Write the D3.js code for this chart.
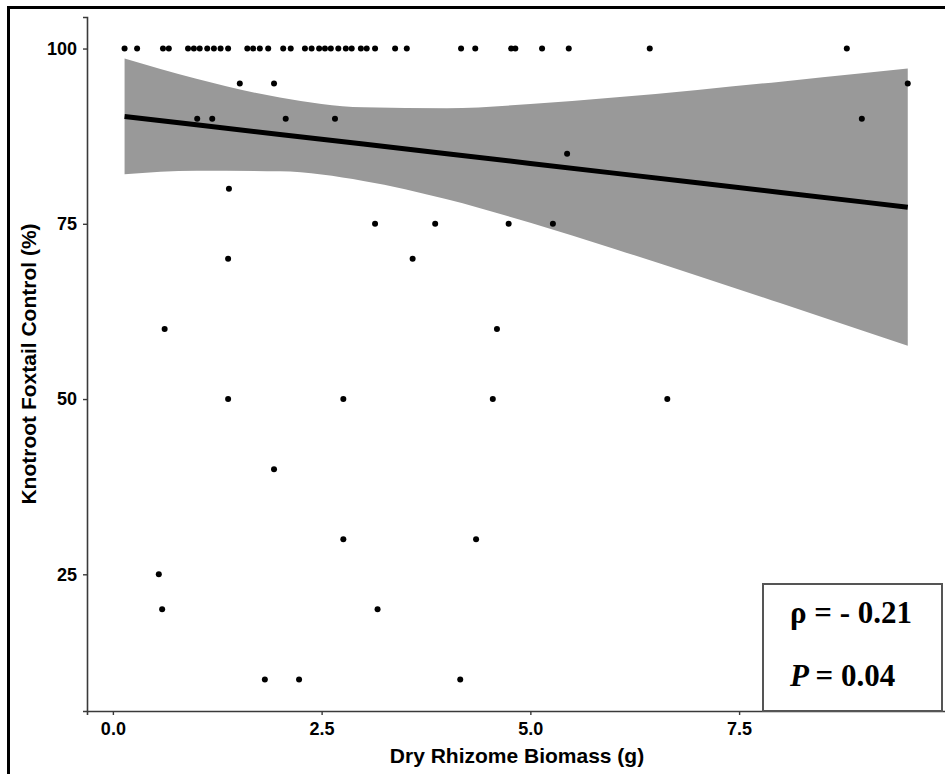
<!DOCTYPE html>
<html>
<head>
<meta charset="utf-8">
<script src="https://cdn.jsdelivr.net/npm/d3@7"></script>
<style>
  html, body { margin: 0; padding: 0; background: #fff; }
  svg { display: block; }
</style>
</head>
<body>
<svg id="canvas" width="945" height="774"></svg>
<script>
// scatter points: dry rhizome biomass (g) vs knotroot foxtail control (%)
const biomass = [
  0.14, 0.29, 0.60, 0.67, 0.90, 0.97, 1.04, 1.13, 1.21, 1.29, 1.38, 1.61, 1.68,
  1.76, 1.86, 2.04, 2.13, 2.30, 2.38, 2.47, 2.54, 2.61, 2.70, 2.79, 2.86, 2.97,
  3.04, 3.14, 3.38, 3.52, 4.17, 4.34, 4.77, 4.82, 5.14, 5.46, 6.43, 8.79,
  1.52, 1.93, 9.52,
  1.01, 1.19, 2.07, 2.66, 8.97,
  5.44, 1.39,
  3.14, 3.86, 4.74, 5.27,
  1.38, 3.59,
  0.62, 4.60,
  1.38, 2.76, 4.55, 6.64,
  1.93,
  2.76, 4.35,
  0.55,
  0.59, 3.17,
  1.82, 2.23, 4.16
];
const control = [
  100, 100, 100, 100, 100, 100, 100, 100, 100, 100, 100, 100, 100,
  100, 100, 100, 100, 100, 100, 100, 100, 100, 100, 100, 100, 100,
  100, 100, 100, 100, 100, 100, 100, 100, 100, 100, 100, 100,
  95, 95, 95,
  90, 90, 90, 90, 90,
  85, 80,
  75, 75, 75, 75,
  70, 70,
  60, 60,
  50, 50, 50, 50,
  40,
  30, 30,
  25,
  20, 20,
  10, 10, 10
];

// fitted line and its confidence band
const fitX     = [0.14, 1, 2, 3, 4, 5, 6, 7, 8, 9, 9.52];
const fitY     = [90.32, 89.13, 87.75, 86.37, 84.99, 83.61, 82.23, 80.85, 79.47, 78.09, 77.37];
const fitLower = [82.07, 82.57, 82.48, 81.12, 78.50, 75.14, 71.45, 67.60, 63.66, 59.67, 57.59];
const fitUpper = [98.57, 95.69, 93.02, 91.62, 91.48, 92.08, 93.01, 94.10, 95.28, 96.51, 97.15];

const xTicks = [0, 2.5, 5, 7.5];
const yTicks = [25, 50, 75, 100];
const rhoLabel = "ρ = - 0.21";
const pLabel = "= 0.04";

const svg = d3.select('#canvas');

// panel bounds
const padLeft = 87, padRight = 947, padTop = 17, padBottom = 711;

const x = d3.scaleLinear().domain([-0.31, 9.99]).range([padLeft, padRight]);
const y = d3.scaleLinear().domain([5.5, 104.5]).range([padBottom, padTop]);

// outer frame (cut off at right and bottom)
svg.append("rect")
  .attr("x", 8.5).attr("y", 7.5)
  .attr("width", 960).attr("height", 800)
  .attr("fill", "none")
  .attr("stroke", "black")
  .attr("stroke-width", 3);

// confidence band
const band = fitX.map((d, i) => ({x: d, lo: fitLower[i], hi: fitUpper[i], fit: fitY[i]}));

svg.append("path")
  .datum(band)
  .attr("fill", "#999999")
  .attr("d", d3.area()
    .x(d => x(d.x))
    .y0(d => y(d.lo))
    .y1(d => y(d.hi))
    .curve(d3.curveMonotoneX));

svg.append("path")
  .datum(band)
  .attr("fill", "none")
  .attr("stroke", "black")
  .attr("stroke-width", 5)
  .attr("d", d3.line()
    .x(d => x(d.x))
    .y(d => y(d.fit)));

// axes
const fontSans = "'Liberation Sans', Arial, sans-serif";

const xAxis = svg.append("g")
  .attr("transform", `translate(0,${padBottom})`)
  .call(d3.axisBottom(x).tickValues(xTicks).tickFormat(d3.format(".1f")).tickSize(4).tickPadding(7));

const yAxis = svg.append("g")
  .attr("transform", `translate(${padLeft},0)`)
  .call(d3.axisLeft(y).tickValues(yTicks).tickSize(4).tickPadding(6));

[xAxis, yAxis].forEach(g => {
  g.select(".domain").attr("stroke", "#3a3a3a").attr("stroke-width", 1.6);
  g.selectAll(".tick line").attr("stroke", "#3a3a3a").attr("stroke-width", 1.4);
  g.selectAll(".tick text")
    .attr("fill", "black")
    .style("font-family", fontSans)
    .style("font-weight", "bold")
    .style("font-size", "18px");
});

// axis titles
svg.append("text")
  .attr("x", (padLeft + padRight) / 2)
  .attr("y", 763)
  .attr("text-anchor", "middle")
  .style("font-family", fontSans)
  .style("font-weight", "bold")
  .style("font-size", "21px")
  .text("Dry Rhizome Biomass (g)");

svg.append("text")
  .attr("transform", `translate(36,${(padTop + padBottom) / 2}) rotate(-90)`)
  .attr("text-anchor", "middle")
  .style("font-family", fontSans)
  .style("font-weight", "bold")
  .style("font-size", "21px")
  .text("Knotroot Foxtail Control (%)");

// points
svg.append("g")
  .selectAll("circle")
  .data(biomass.map((d, i) => [d, control[i]]))
  .join("circle")
  .attr("cx", d => x(d[0]))
  .attr("cy", d => y(d[1]))
  .attr("r", 3)
  .attr("fill", "black");

// stats box
svg.append("rect")
  .attr("x", 763).attr("y", 584)
  .attr("width", 179).attr("height", padBottom - 584)
  .attr("fill", "white")
  .attr("stroke", "#555")
  .attr("stroke-width", 2);

const fontSerif = "'Liberation Serif', 'Times New Roman', serif";

svg.append("text")
  .attr("x", 790).attr("y", 623)
  .style("font-family", fontSerif)
  .style("font-weight", "bold")
  .style("font-size", "31px")
  .text(rhoLabel);

const pText = svg.append("text")
  .attr("x", 790).attr("y", 686)
  .style("font-family", fontSerif)
  .style("font-weight", "bold")
  .style("font-size", "31px");
pText.append("tspan").style("font-style", "italic").text("P ");
pText.append("tspan").text(pLabel);
</script>
</body>
</html>
